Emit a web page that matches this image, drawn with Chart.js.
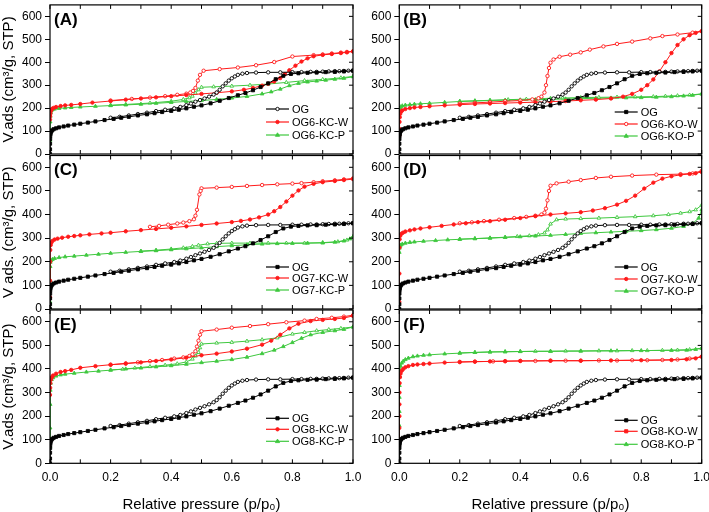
<!DOCTYPE html>
<html>
<head>
<meta charset="utf-8">
<script src="https://cdn.jsdelivr.net/npm/chart.js@4.4.0/dist/chart.umd.min.js"></script>
<style>
html, body { margin: 0; padding: 0; background: #fff; }
body { width: 709px; height: 512px; position: relative; overflow: hidden; }
canvas { position: absolute; }
</style>
</head>
<body>
<canvas id="pA"></canvas>
<canvas id="pB"></canvas>
<canvas id="pC"></canvas>
<canvas id="pD"></canvas>
<canvas id="pE"></canvas>
<canvas id="pF"></canvas>
<script>
// ticks
const X_TICKS = [0, 0.1, 0.2, 0.3, 0.4, 0.5, 0.6, 0.7, 0.8, 0.9, 1.0];
const X_LABELS = ['0.0', '', '0.2', '', '0.4', '', '0.6', '', '0.8', '', '1.0'];
const Y_TICKS = [0, 100, 200, 300, 400, 500, 600];

// OG reference sample (same in every panel), [p/p0, V]
const OG_ADS = [[0,0],[0.0001,20],[0.0002,45],[0.0004,65],[0.0007,78],[0.0012,86],[0.002,92],[0.004,98],[0.007,103],[0.012,108],[0.02,112],[0.03,116],[0.045,120],[0.06,124],[0.08,128],[0.1,132],[0.125,137],[0.15,142],[0.18,148],[0.21,153],[0.235,158],[0.26,162],[0.29,168],[0.32,173],[0.345,178],[0.37,183],[0.4,188],[0.425,193],[0.45,199],[0.475,206],[0.5,212],[0.53,221],[0.56,232],[0.59,244],[0.62,256],[0.645,266],[0.67,278],[0.695,292],[0.72,308],[0.745,326],[0.77,341],[0.795,349],[0.82,352],[0.85,354],[0.88,355],[0.91,357],[0.94,358],[0.97,360],[1.0,363]];
const OG_DES = [[1.0,364],[0.985,363],[0.97,362],[0.955,361],[0.94,361],[0.92,360],[0.9,359],[0.88,358],[0.86,358],[0.83,357],[0.8,357],[0.76,356],[0.72,356],[0.68,355],[0.65,353],[0.635,350],[0.62,345],[0.61,338],[0.6,330],[0.59,320],[0.58,308],[0.57,295],[0.56,280],[0.55,268],[0.54,259],[0.525,250],[0.51,242],[0.495,235],[0.48,228],[0.465,220],[0.45,213],[0.43,205],[0.41,199],[0.38,193],[0.35,187],[0.32,180],[0.29,174],[0.26,168],[0.23,162],[0.2,158]];

// (A) OG6-KC
const A_W_ADS = [[0,150],[0.0003,165],[0.0008,175],[0.002,185],[0.004,192],[0.007,197],[0.012,201],[0.02,205],[0.035,209],[0.05,212],[0.07,214],[0.1,218],[0.14,224],[0.2,231],[0.25,237],[0.3,242],[0.35,247],[0.4,252],[0.45,257],[0.5,262],[0.55,267],[0.6,273],[0.64,280],[0.67,288],[0.7,298],[0.72,306],[0.74,316],[0.76,331],[0.775,348],[0.79,365],[0.81,385],[0.83,403],[0.85,417],[0.87,426],[0.9,432],[0.93,436],[0.96,440],[0.98,443],[1.0,447]];
const A_W_DES = [[1.0,448],[0.98,445],[0.96,442],[0.93,438],[0.9,434],[0.87,431],[0.8,425],[0.74,401],[0.68,387],[0.62,377],[0.56,370],[0.507,363],[0.495,345],[0.488,320],[0.48,288],[0.472,275],[0.463,268],[0.45,263],[0.42,258],[0.38,252],[0.33,246],[0.27,240],[0.2,233]];
const A_P_ADS = [[0,60],[0.0003,100],[0.0006,140],[0.001,165],[0.002,180],[0.004,188],[0.008,193],[0.015,196],[0.03,199],[0.05,201],[0.07,203],[0.1,205],[0.15,208],[0.2,211],[0.25,214],[0.3,217],[0.35,221],[0.4,225],[0.45,229],[0.5,233],[0.55,238],[0.6,244],[0.65,251],[0.7,262],[0.73,271],[0.76,283],[0.79,298],[0.82,308],[0.85,314],[0.88,318],[0.91,322],[0.94,326],[0.97,330],[1.0,337]];
const A_P_DES = [[1.0,338],[0.96,332],[0.9,325],[0.84,320],[0.78,312],[0.72,305],[0.66,300],[0.6,296],[0.54,293],[0.5,291],[0.49,280],[0.48,265],[0.47,252],[0.46,245],[0.44,238],[0.4,230],[0.33,222],[0.25,216],[0.2,213]];

// (B) OG6-KO
const B_W_ADS = [[0,80],[0.0003,110],[0.0007,140],[0.0015,160],[0.003,175],[0.006,185],[0.01,190],[0.02,196],[0.035,200],[0.05,203],[0.07,205],[0.1,208],[0.15,212],[0.2,215],[0.25,218],[0.3,220],[0.35,222],[0.4,224],[0.45,226],[0.5,228],[0.55,231],[0.6,234],[0.65,237],[0.7,242],[0.74,250],[0.77,262],[0.8,280],[0.82,300],[0.84,325],[0.86,360],[0.88,400],[0.9,440],[0.92,475],[0.94,500],[0.96,518],[0.98,528],[1.0,535]];
const B_W_DES = [[1.0,536],[0.97,529],[0.92,521],[0.87,514],[0.83,504],[0.77,490],[0.72,480],[0.675,469],[0.63,455],[0.6,443],[0.565,433],[0.53,424],[0.51,412],[0.5,398],[0.495,375],[0.49,340],[0.485,300],[0.48,268],[0.47,250],[0.46,243],[0.44,238],[0.4,233],[0.35,230],[0.3,226],[0.25,223],[0.2,220]];
const B_P_ADS = [[0,175],[0.0005,190],[0.002,200],[0.005,206],[0.01,210],[0.02,213],[0.035,215],[0.05,217],[0.07,219],[0.1,221],[0.15,225],[0.2,229],[0.25,231],[0.3,233],[0.35,235],[0.4,236],[0.45,237],[0.5,238],[0.55,240],[0.6,241],[0.65,243],[0.7,244],[0.75,245],[0.8,246],[0.85,248],[0.9,250],[0.94,253],[0.97,256],[1.0,262]];
const B_P_DES = [[1.0,262],[0.96,257],[0.92,254],[0.88,252],[0.84,250],[0.78,249],[0.72,248],[0.66,247],[0.6,246],[0.54,244],[0.5,243],[0.46,241],[0.42,239],[0.36,237],[0.3,234],[0.25,232],[0.2,230]];

// (C) OG7-KC
const C_W_ADS = [[0,50],[0.0002,120],[0.0005,200],[0.001,250],[0.002,270],[0.004,280],[0.008,288],[0.015,294],[0.025,298],[0.04,302],[0.06,306],[0.08,309],[0.1,312],[0.13,316],[0.17,320],[0.2,323],[0.25,329],[0.3,334],[0.35,339],[0.4,344],[0.45,350],[0.5,356],[0.55,362],[0.6,368],[0.63,373],[0.66,379],[0.69,388],[0.72,400],[0.74,414],[0.76,432],[0.78,455],[0.8,480],[0.82,502],[0.84,518],[0.87,530],[0.9,537],[0.94,542],[0.97,546],[1.0,550]];
const C_W_DES = [[1.0,553],[0.97,549],[0.94,545],[0.9,541],[0.87,537],[0.83,533],[0.8,531],[0.75,528],[0.7,525],[0.65,521],[0.6,517],[0.55,514],[0.5,511],[0.497,500],[0.493,485],[0.485,420],[0.48,395],[0.475,380],[0.46,372],[0.44,366],[0.42,362],[0.39,357],[0.36,352],[0.33,348]];
const C_P_ADS = [[0,30],[0.0003,120],[0.0006,180],[0.001,198],[0.003,205],[0.008,210],[0.015,214],[0.03,218],[0.05,221],[0.08,224],[0.12,228],[0.16,232],[0.2,236],[0.25,240],[0.3,244],[0.35,247],[0.4,251],[0.45,255],[0.5,259],[0.55,264],[0.6,268],[0.65,272],[0.7,275],[0.75,277],[0.8,278],[0.85,279],[0.9,280],[0.94,283],[0.97,288],[0.99,297],[1.0,306]];
const C_P_DES = [[1.0,306],[0.98,292],[0.95,285],[0.9,281],[0.84,279],[0.78,279],[0.72,279],[0.66,279],[0.6,279],[0.55,278],[0.52,276],[0.49,270],[0.47,265],[0.44,259],[0.4,254],[0.35,249],[0.3,245]];

// (D) OG7-KO
const D_W_ADS = [[0,30],[0.0002,150],[0.0005,260],[0.001,295],[0.003,310],[0.006,318],[0.012,323],[0.02,328],[0.035,333],[0.05,337],[0.07,341],[0.1,346],[0.14,352],[0.18,358],[0.22,363],[0.26,368],[0.3,372],[0.35,378],[0.4,385],[0.45,393],[0.5,400],[0.55,405],[0.6,410],[0.64,417],[0.68,427],[0.72,442],[0.75,458],[0.78,480],[0.81,510],[0.84,535],[0.87,552],[0.9,562],[0.93,568],[0.96,572],[0.98,575],[1.0,580]];
const D_W_DES = [[1.0,585],[0.97,574],[0.93,571],[0.85,569],[0.77,565],[0.7,560],[0.65,555],[0.6,546],[0.56,539],[0.52,532],[0.5,522],[0.495,500],[0.49,460],[0.485,425],[0.48,408],[0.47,400],[0.45,395],[0.42,390],[0.38,385],[0.33,378],[0.28,372],[0.24,367],[0.2,363]];
const D_P_ADS = [[0,240],[0.0005,258],[0.002,266],[0.005,271],[0.01,275],[0.02,279],[0.035,282],[0.05,284],[0.08,287],[0.12,290],[0.16,293],[0.2,295],[0.25,298],[0.3,300],[0.35,303],[0.4,306],[0.45,309],[0.5,312],[0.55,316],[0.6,320],[0.65,323],[0.7,326],[0.75,329],[0.8,332],[0.85,336],[0.9,342],[0.94,350],[0.97,362],[0.99,385],[1.0,420]];
const D_P_DES = [[1.0,440],[0.98,420],[0.96,412],[0.93,406],[0.89,400],[0.84,395],[0.78,391],[0.72,388],[0.66,385],[0.6,383],[0.55,381],[0.52,378],[0.5,360],[0.49,335],[0.48,322],[0.46,315],[0.43,310],[0.39,307],[0.35,304],[0.3,301],[0.25,298],[0.2,296]];

// (E) OG8-KC
const E_W_ADS = [[0,290],[0.0005,320],[0.001,340],[0.003,355],[0.006,365],[0.01,372],[0.02,380],[0.035,387],[0.05,391],[0.07,396],[0.1,405],[0.15,412],[0.2,418],[0.25,423],[0.3,428],[0.35,434],[0.4,440],[0.45,448],[0.5,458],[0.55,465],[0.6,474],[0.65,486],[0.7,503],[0.73,520],[0.76,545],[0.79,572],[0.82,592],[0.86,603],[0.9,608],[0.94,612],[0.97,616],[1.0,625]];
const E_W_DES = [[1.0,628],[0.97,622],[0.93,617],[0.88,612],[0.84,605],[0.78,598],[0.72,590],[0.66,582],[0.6,575],[0.55,567],[0.5,560],[0.495,545],[0.49,520],[0.485,495],[0.48,475],[0.47,462],[0.46,455],[0.44,449],[0.41,444],[0.37,438],[0.33,433],[0.29,428],[0.25,423],[0.2,418]];
const E_P_ADS = [[0,70],[0.0003,150],[0.0006,250],[0.001,310],[0.002,340],[0.005,355],[0.01,363],[0.02,370],[0.035,375],[0.05,378],[0.08,382],[0.12,387],[0.16,391],[0.2,395],[0.25,400],[0.3,404],[0.35,409],[0.4,414],[0.45,420],[0.5,427],[0.55,433],[0.6,440],[0.65,450],[0.7,465],[0.74,480],[0.77,495],[0.8,512],[0.83,530],[0.86,545],[0.9,555],[0.94,562],[0.97,568],[1.0,578]];
const E_P_DES = [[1.0,578],[0.96,572],[0.92,567],[0.88,562],[0.84,555],[0.8,548],[0.75,532],[0.7,524],[0.65,518],[0.6,513],[0.55,510],[0.5,506],[0.495,490],[0.49,470],[0.48,455],[0.47,442],[0.45,430],[0.42,422],[0.38,416],[0.33,410],[0.28,404],[0.24,399],[0.2,396]];

// (F) OG8-KO
const F_W_ADS = [[0,90],[0.0001,150],[0.0002,200],[0.0003,250],[0.0005,300],[0.001,340],[0.002,365],[0.004,380],[0.008,392],[0.013,400],[0.02,407],[0.03,412],[0.045,417],[0.06,419],[0.08,421],[0.1,423],[0.15,427],[0.2,429],[0.25,431],[0.3,432],[0.35,433],[0.4,434],[0.5,435],[0.6,435],[0.7,436],[0.8,437],[0.9,438],[0.95,441],[0.98,445],[1.0,452]];
const F_W_DES = [[1.0,452],[0.96,444],[0.92,440],[0.87,438],[0.82,437],[0.77,437],[0.72,436],[0.66,436],[0.6,435],[0.55,435],[0.5,435],[0.45,434],[0.4,434],[0.35,433],[0.31,432],[0.25,431],[0.2,430]];
const F_P_ADS = [[0,100],[0.0001,160],[0.0002,220],[0.0003,280],[0.0005,330],[0.001,370],[0.002,395],[0.004,412],[0.008,425],[0.013,433],[0.02,440],[0.03,446],[0.045,452],[0.06,455],[0.08,458],[0.1,460],[0.15,464],[0.2,467],[0.25,470],[0.3,472],[0.35,473],[0.4,474],[0.5,475],[0.6,476],[0.7,477],[0.8,478],[0.9,479],[0.95,480],[0.98,483],[1.0,488]];
const F_P_DES = [[1.0,488],[0.96,482],[0.92,480],[0.87,479],[0.82,478],[0.77,478],[0.72,477],[0.66,477],[0.6,476],[0.55,476],[0.5,475],[0.45,475],[0.4,474],[0.35,473],[0.3,472],[0.25,470],[0.2,468]];

const FONT = 'Liberation Sans, Arial, sans-serif';
const BLACK = '#000000';
const RED = '#ff1a1a';
const GREEN = '#3fc83f';

Chart.defaults.font.family = FONT;
Chart.defaults.color = '#000';

// canvas placement for the 2 columns and 3 rows
const COLS = [
    { left: 0, width: 365, axisW: 50, padR: 12 },
    { left: 355, width: 354, axisW: 44.3, padR: 7.3 }
];
const ROWS = [
    { top: 0, height: 162, padT: 0.5, axisH: 8 },
    { top: 146, height: 172, padT: 9.5, axisH: 9 },
    { top: 300, height: 212, padT: 10, axisH: 48.7 }
];

const panelMeta = {};

function drawMark(ctx, style, filled, color, x, y) {
    ctx.beginPath();
    if (style === 'rect') {
        ctx.rect(x - 1.6, y - 1.6, 3.2, 3.2);
    } else if (style === 'triangle') {
        ctx.moveTo(x, y - 2.2);
        ctx.lineTo(x + 2.1, y + 1.3);
        ctx.lineTo(x - 2.1, y + 1.3);
        ctx.closePath();
    } else {
        ctx.arc(x, y, 1.7, 0, Math.PI * 2);
    }
    ctx.fillStyle = filled ? color : '#fff';
    ctx.fill();
    ctx.lineWidth = 0.9;
    ctx.strokeStyle = color;
    ctx.stroke();
}

const panelDeco = {
    id: 'panelDeco',
    afterDraw(chart) {
        const meta = panelMeta[chart.canvas.id];
        const a = chart.chartArea;
        const xs = chart.scales.x;
        const ys = chart.scales.y;
        const ctx = chart.ctx;
        ctx.save();
        ctx.strokeStyle = '#000';
        ctx.lineWidth = 1.2;
        ctx.strokeRect(a.left, a.top, a.right - a.left, a.bottom - a.top);

        ctx.lineWidth = 1;
        ctx.beginPath();
        X_TICKS.forEach(v => {
            const px = xs.getPixelForValue(v);
            ctx.moveTo(px, a.bottom);
            ctx.lineTo(px, a.bottom - 4);
            ctx.moveTo(px, a.top);
            ctx.lineTo(px, a.top + 4);
        });
        Y_TICKS.forEach(v => {
            const py = ys.getPixelForValue(v);
            ctx.moveTo(a.right, py);
            ctx.lineTo(a.right - 4, py);
        });
        ctx.stroke();

        // panel letter
        ctx.fillStyle = '#000';
        ctx.font = 'bold 17px ' + FONT;
        ctx.textBaseline = 'middle';
        ctx.textAlign = 'left';
        ctx.fillText(meta.letter, a.left + 4, a.top + 15);

        // legend
        ctx.font = '11px ' + FONT;
        meta.legend.forEach((item, i) => {
            const y = a.bottom + meta.legendRows[i];
            const x0 = a.right - 87;
            const x1 = a.right - 64;
            ctx.beginPath();
            ctx.strokeStyle = item.color;
            ctx.lineWidth = 1.2;
            ctx.moveTo(x0, y);
            ctx.lineTo(x1, y);
            ctx.stroke();
            drawMark(ctx, item.style, item.filled, item.color, (x0 + x1) / 2, y);
            ctx.fillStyle = '#000';
            ctx.fillText(item.label, a.right - 61, y + 0.5);
        });
        ctx.restore();
    }
};

function branch(data, color, style, filled) {
    return {
        data: data.map(d => ({ x: d[0], y: d[1] })),
        showLine: true,
        borderColor: color,
        borderWidth: 1,
        backgroundColor: filled ? color : '#fff',
        pointStyle: style,
        pointRadius: style === 'rect' ? 2.2 : (style === 'triangle' ? 2.1 : 1.7),
        pointBorderWidth: 0.9,
        pointBorderColor: color,
        pointBackgroundColor: filled ? color : '#fff',
        tension: 0
    };
}

function makePanel(id, col, row, sets, legend, yTitle, letter, legendRows) {
    const c = COLS[col];
    const r = ROWS[row];
    const canvas = document.getElementById(id);
    canvas.width = c.width;
    canvas.height = r.height;
    canvas.style.left = c.left + 'px';
    canvas.style.top = r.top + 'px';
    panelMeta[id] = { letter: letter, legend: legend, legendRows: legendRows };
    const isBottom = row === 2;

    new Chart(canvas, {
        type: 'scatter',
        data: {
            datasets: [
                branch(OG_ADS, BLACK, 'rect', true),
                branch(OG_DES, BLACK, 'circle', false),
                branch(sets[0], RED, 'circle', true),
                branch(sets[1], RED, 'circle', false),
                branch(sets[2], GREEN, 'triangle', true),
                branch(sets[3], GREEN, 'triangle', false)
            ]
        },
        options: {
            responsive: false,
            animation: false,
            layout: { padding: { left: 0, right: c.padR, top: r.padT, bottom: 0 } },
            plugins: { legend: { display: false }, tooltip: { enabled: false } },
            scales: {
                x: {
                    type: 'linear',
                    min: 0,
                    max: 1,
                    afterBuildTicks: s => { s.ticks = X_TICKS.map(v => ({ value: v })); },
                    afterFit: s => { s.height = r.axisH; s.paddingLeft = 0; s.paddingRight = 0; },
                    grid: { display: false },
                    border: { display: false },
                    ticks: {
                        display: isBottom,
                        autoSkip: false,
                        maxRotation: 0,
                        padding: -1,
                        font: { size: 12 },
                        color: '#000',
                        callback: (v, i) => X_LABELS[i]
                    },
                    title: {
                        display: isBottom,
                        text: 'Relative pressure (p/p\u2080)',
                        font: { size: 15 },
                        color: '#000',
                        padding: { top: 0, bottom: -2 }
                    }
                },
                y: {
                    type: 'linear',
                    min: 0,
                    max: 650,
                    afterBuildTicks: s => { s.ticks = Y_TICKS.map(v => ({ value: v })); },
                    afterFit: s => { s.width = c.axisW; s.paddingTop = 0; s.paddingBottom = 0; },
                    grid: { drawOnChartArea: false, drawTicks: true, tickLength: 5, color: '#000', lineWidth: 1 },
                    border: { display: false },
                    ticks: { padding: 3, font: { size: 12 }, color: '#000', callback: v => String(v) },
                    title: {
                        display: !!yTitle,
                        text: yTitle || '',
                        font: { size: 15 },
                        color: '#000',
                        padding: { top: 0, bottom: 0 }
                    }
                }
            }
        },
        plugins: [panelDeco]
    });
}

function legendFor(names, styles) {
    const colors = [BLACK, RED, GREEN];
    return names.map((n, i) => ({ label: n, color: colors[i], style: styles[i][0], filled: styles[i][1] }));
}

makePanel('pA', 0, 0, [A_W_ADS, A_W_DES, A_P_ADS, A_P_DES],
    legendFor(['OG', 'OG6-KC-W', 'OG6-KC-P'], [['circle', false], ['circle', true], ['triangle', true]]),
    'V.ads (cm\u00b3/g, STP)', '(A)', [-45, -32, -19]);
makePanel('pB', 1, 0, [B_W_ADS, B_W_DES, B_P_ADS, B_P_DES],
    legendFor(['OG', 'OG6-KO-W', 'OG6-KO-P'], [['rect', true], ['circle', false], ['triangle', true]]),
    null, '(B)', [-42, -30, -18]);
makePanel('pC', 0, 1, [C_W_ADS, C_W_DES, C_P_ADS, C_P_DES],
    legendFor(['OG', 'OG7-KC-W', 'OG7-KC-P'], [['rect', true], ['circle', true], ['triangle', true]]),
    'V ads. (cm\u00b3/g, STP)', '(C)', [-42, -31, -19]);
makePanel('pD', 1, 1, [D_W_ADS, D_W_DES, D_P_ADS, D_P_DES],
    legendFor(['OG', 'OG7-KO-W', 'OG7-KO-P'], [['rect', true], ['circle', true], ['triangle', true]]),
    null, '(D)', [-42, -30, -18]);
makePanel('pE', 0, 2, [E_W_ADS, E_W_DES, E_P_ADS, E_P_DES],
    legendFor(['OG', 'OG8-KC-W', 'OG8-KC-P'], [['rect', true], ['circle', true], ['triangle', true]]),
    'V.ads (cm\u00b3/g, STP)', '(E)', [-45, -34, -22]);
makePanel('pF', 1, 2, [F_W_ADS, F_W_DES, F_P_ADS, F_P_DES],
    legendFor(['OG', 'OG8-KO-W', 'OG8-KO-P'], [['rect', true], ['rect', true], ['triangle', true]]),
    null, '(F)', [-43, -32, -19]);
</script>
</body>
</html>
